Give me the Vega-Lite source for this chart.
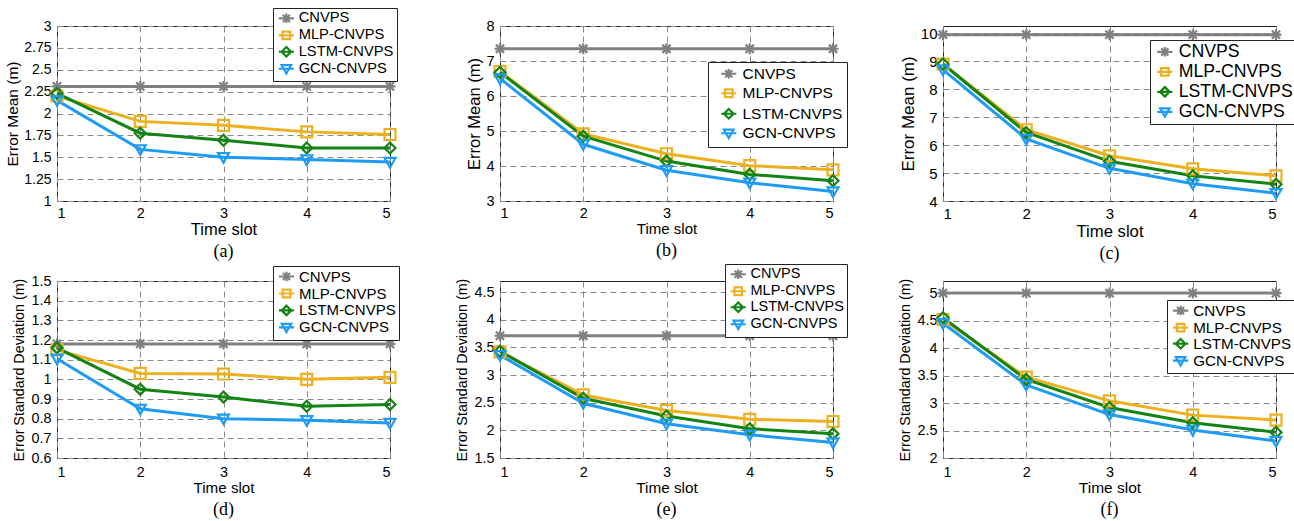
{
  "$schema": "https://vega.github.io/schema/vega-lite/v6.json",
  "background": "white",
  "padding": {"left": 5, "top": 7, "right": 5, "bottom": 5},
  "config": {
    "font": "Liberation Sans",
    "view": {"stroke": "#222", "strokeWidth": 1},
    "axis": {"domain": false, "ticks": false, "grid": true, "gridDash": [6, 4], "gridColor": "#8a8a8a", "gridWidth": 1, "labelColor": "#000", "titleColor": "#000", "titleFontWeight": "normal", "labelFont": "Liberation Sans", "titleFont": "Liberation Sans", "labelExpr": "format(datum.value, '~g')"},
    "legend": {"orient": "none", "title": null, "strokeColor": "#222", "fillColor": "#fff", "padding": 3, "labelFont": "Liberation Sans", "labelColor": "#000", "symbolStrokeWidth": 2.2, "symbolSize": 90, "symbolOffset": 3, "labelOffset": 5, "symbolFillColor": "transparent"},
    "point": {"filled": false, "strokeWidth": 2.2, "size": 120, "opacity": 1},
    "title": {"font": "Liberation Serif", "fontWeight": "normal", "fontSize": 18, "color": "#000", "orient": "bottom", "anchor": "middle"}
  },
  "data": {"values": [
    {"p":"a","m":"CNVPS","t":1,"v":2.31},{"p":"a","m":"CNVPS","t":2,"v":2.31},{"p":"a","m":"CNVPS","t":3,"v":2.31},{"p":"a","m":"CNVPS","t":4,"v":2.31},{"p":"a","m":"CNVPS","t":5,"v":2.31},
    {"p":"a","m":"MLP-CNVPS","t":1,"v":2.2},{"p":"a","m":"MLP-CNVPS","t":2,"v":1.91},{"p":"a","m":"MLP-CNVPS","t":3,"v":1.865},{"p":"a","m":"MLP-CNVPS","t":4,"v":1.79},{"p":"a","m":"MLP-CNVPS","t":5,"v":1.76},
    {"p":"a","m":"LSTM-CNVPS","t":1,"v":2.23},{"p":"a","m":"LSTM-CNVPS","t":2,"v":1.775},{"p":"a","m":"LSTM-CNVPS","t":3,"v":1.695},{"p":"a","m":"LSTM-CNVPS","t":4,"v":1.605},{"p":"a","m":"LSTM-CNVPS","t":5,"v":1.605},
    {"p":"a","m":"GCN-CNVPS","t":1,"v":2.15},{"p":"a","m":"GCN-CNVPS","t":2,"v":1.59},{"p":"a","m":"GCN-CNVPS","t":3,"v":1.5},{"p":"a","m":"GCN-CNVPS","t":4,"v":1.475},{"p":"a","m":"GCN-CNVPS","t":5,"v":1.445},
    {"p":"b","m":"CNVPS","t":1,"v":7.35},{"p":"b","m":"CNVPS","t":2,"v":7.35},{"p":"b","m":"CNVPS","t":3,"v":7.35},{"p":"b","m":"CNVPS","t":4,"v":7.35},{"p":"b","m":"CNVPS","t":5,"v":7.35},
    {"p":"b","m":"MLP-CNVPS","t":1,"v":6.7},{"p":"b","m":"MLP-CNVPS","t":2,"v":4.92},{"p":"b","m":"MLP-CNVPS","t":3,"v":4.35},{"p":"b","m":"MLP-CNVPS","t":4,"v":4.01},{"p":"b","m":"MLP-CNVPS","t":5,"v":3.89},
    {"p":"b","m":"LSTM-CNVPS","t":1,"v":6.68},{"p":"b","m":"LSTM-CNVPS","t":2,"v":4.85},{"p":"b","m":"LSTM-CNVPS","t":3,"v":4.14},{"p":"b","m":"LSTM-CNVPS","t":4,"v":3.76},{"p":"b","m":"LSTM-CNVPS","t":5,"v":3.58},
    {"p":"b","m":"GCN-CNVPS","t":1,"v":6.5},{"p":"b","m":"GCN-CNVPS","t":2,"v":4.62},{"p":"b","m":"GCN-CNVPS","t":3,"v":3.88},{"p":"b","m":"GCN-CNVPS","t":4,"v":3.52},{"p":"b","m":"GCN-CNVPS","t":5,"v":3.27},
    {"p":"c","m":"CNVPS","t":1,"v":9.95},{"p":"c","m":"CNVPS","t":2,"v":9.95},{"p":"c","m":"CNVPS","t":3,"v":9.95},{"p":"c","m":"CNVPS","t":4,"v":9.95},{"p":"c","m":"CNVPS","t":5,"v":9.95},
    {"p":"c","m":"MLP-CNVPS","t":1,"v":8.9},{"p":"c","m":"MLP-CNVPS","t":2,"v":6.55},{"p":"c","m":"MLP-CNVPS","t":3,"v":5.62},{"p":"c","m":"MLP-CNVPS","t":4,"v":5.15},{"p":"c","m":"MLP-CNVPS","t":5,"v":4.9},
    {"p":"c","m":"LSTM-CNVPS","t":1,"v":8.9},{"p":"c","m":"LSTM-CNVPS","t":2,"v":6.45},{"p":"c","m":"LSTM-CNVPS","t":3,"v":5.42},{"p":"c","m":"LSTM-CNVPS","t":4,"v":4.9},{"p":"c","m":"LSTM-CNVPS","t":5,"v":4.6},
    {"p":"c","m":"GCN-CNVPS","t":1,"v":8.7},{"p":"c","m":"GCN-CNVPS","t":2,"v":6.22},{"p":"c","m":"GCN-CNVPS","t":3,"v":5.17},{"p":"c","m":"GCN-CNVPS","t":4,"v":4.62},{"p":"c","m":"GCN-CNVPS","t":5,"v":4.28},
    {"p":"d","m":"CNVPS","t":1,"v":1.18},{"p":"d","m":"CNVPS","t":2,"v":1.18},{"p":"d","m":"CNVPS","t":3,"v":1.18},{"p":"d","m":"CNVPS","t":4,"v":1.18},{"p":"d","m":"CNVPS","t":5,"v":1.18},
    {"p":"d","m":"MLP-CNVPS","t":1,"v":1.15},{"p":"d","m":"MLP-CNVPS","t":2,"v":1.03},{"p":"d","m":"MLP-CNVPS","t":3,"v":1.027},{"p":"d","m":"MLP-CNVPS","t":4,"v":1.0},{"p":"d","m":"MLP-CNVPS","t":5,"v":1.01},
    {"p":"d","m":"LSTM-CNVPS","t":1,"v":1.16},{"p":"d","m":"LSTM-CNVPS","t":2,"v":0.95},{"p":"d","m":"LSTM-CNVPS","t":3,"v":0.91},{"p":"d","m":"LSTM-CNVPS","t":4,"v":0.863},{"p":"d","m":"LSTM-CNVPS","t":5,"v":0.872},
    {"p":"d","m":"GCN-CNVPS","t":1,"v":1.105},{"p":"d","m":"GCN-CNVPS","t":2,"v":0.85},{"p":"d","m":"GCN-CNVPS","t":3,"v":0.8},{"p":"d","m":"GCN-CNVPS","t":4,"v":0.792},{"p":"d","m":"GCN-CNVPS","t":5,"v":0.778},
    {"p":"e","m":"CNVPS","t":1,"v":3.71},{"p":"e","m":"CNVPS","t":2,"v":3.71},{"p":"e","m":"CNVPS","t":3,"v":3.71},{"p":"e","m":"CNVPS","t":4,"v":3.71},{"p":"e","m":"CNVPS","t":5,"v":3.71},
    {"p":"e","m":"MLP-CNVPS","t":1,"v":3.42},{"p":"e","m":"MLP-CNVPS","t":2,"v":2.64},{"p":"e","m":"MLP-CNVPS","t":3,"v":2.36},{"p":"e","m":"MLP-CNVPS","t":4,"v":2.2},{"p":"e","m":"MLP-CNVPS","t":5,"v":2.16},
    {"p":"e","m":"LSTM-CNVPS","t":1,"v":3.43},{"p":"e","m":"LSTM-CNVPS","t":2,"v":2.58},{"p":"e","m":"LSTM-CNVPS","t":3,"v":2.26},{"p":"e","m":"LSTM-CNVPS","t":4,"v":2.03},{"p":"e","m":"LSTM-CNVPS","t":5,"v":1.94},
    {"p":"e","m":"GCN-CNVPS","t":1,"v":3.36},{"p":"e","m":"GCN-CNVPS","t":2,"v":2.49},{"p":"e","m":"GCN-CNVPS","t":3,"v":2.12},{"p":"e","m":"GCN-CNVPS","t":4,"v":1.92},{"p":"e","m":"GCN-CNVPS","t":5,"v":1.78},
    {"p":"f","m":"CNVPS","t":1,"v":5.0},{"p":"f","m":"CNVPS","t":2,"v":5.0},{"p":"f","m":"CNVPS","t":3,"v":5.0},{"p":"f","m":"CNVPS","t":4,"v":5.0},{"p":"f","m":"CNVPS","t":5,"v":5.0},
    {"p":"f","m":"MLP-CNVPS","t":1,"v":4.52},{"p":"f","m":"MLP-CNVPS","t":2,"v":3.47},{"p":"f","m":"MLP-CNVPS","t":3,"v":3.04},{"p":"f","m":"MLP-CNVPS","t":4,"v":2.78},{"p":"f","m":"MLP-CNVPS","t":5,"v":2.69},
    {"p":"f","m":"LSTM-CNVPS","t":1,"v":4.55},{"p":"f","m":"LSTM-CNVPS","t":2,"v":3.43},{"p":"f","m":"LSTM-CNVPS","t":3,"v":2.92},{"p":"f","m":"LSTM-CNVPS","t":4,"v":2.64},{"p":"f","m":"LSTM-CNVPS","t":5,"v":2.47},
    {"p":"f","m":"GCN-CNVPS","t":1,"v":4.45},{"p":"f","m":"GCN-CNVPS","t":2,"v":3.33},{"p":"f","m":"GCN-CNVPS","t":3,"v":2.79},{"p":"f","m":"GCN-CNVPS","t":4,"v":2.51},{"p":"f","m":"GCN-CNVPS","t":5,"v":2.31}
  ]},
  "columns": 3,
  "bounds": "flush",
  "spacing": {"row": 80, "column": 110},
  "resolve": {"scale": {"color": "independent", "shape": "independent"}, "legend": {"color": "independent", "shape": "independent"}},
  "concat": [
    {
      "width": 333, "height": 175,
      "transform": [{"filter": "datum.p === 'a'"}],
      "title": {"text": "(a)", "offset": 5},
      "encoding": {
        "x": {"field": "t", "type": "quantitative", "scale": {"domain": [1, 5], "nice": false}, "axis": {"values": [1, 2, 3, 4, 5], "title": "Time slot", "labelFontSize": 14.5, "titleFontSize": 16.5, "labelPadding": 5, "titlePadding": 2}},
        "y": {"field": "v", "type": "quantitative", "scale": {"domain": [1, 3], "nice": false, "zero": false}, "axis": {"values": [1, 1.25, 1.5, 1.75, 2, 2.25, 2.5, 2.75, 3], "title": "Error Mean (m)", "labelFontSize": 14, "titleFontSize": 15.5, "labelPadding": 6, "titlePadding": 3}}
      },
      "layer": [
        {"mark": {"type": "line", "strokeWidth": 3}, "encoding": {"color": {"field": "m", "type": "nominal", "sort": null, "scale": {"domain": ["CNVPS", "MLP-CNVPS", "LSTM-CNVPS", "GCN-CNVPS"], "range": ["#808080", "#EDB120", "#138413", "#1E9BF5"]}, "legend": {"legendX": 216, "legendY": -18, "labelFontSize": 14.7, "rowPadding": -1.6}}}},
        {"transform": [{"filter": "false"}], "mark": {"type": "point"}, "encoding": {"color": {"field": "m", "type": "nominal", "sort": null, "scale": {"domain": ["CNVPS", "MLP-CNVPS", "LSTM-CNVPS", "GCN-CNVPS"], "range": ["#808080", "#EDB120", "#138413", "#1E9BF5"]}}, "shape": {"field": "m", "type": "nominal", "sort": null, "scale": {"domain": ["CNVPS", "MLP-CNVPS", "LSTM-CNVPS", "GCN-CNVPS"], "range": ["M-1.6,0L1.6,0M0,-1L0,1M-0.75,-0.75L0.75,0.75M-0.75,0.75L0.75,-0.75", "M-1.6,0L1.6,0M-0.8,-0.8L0.8,-0.8L0.8,0.8L-0.8,0.8Z", "M-1.6,0L1.6,0M0,-1L1,0L0,1L-1,0Z", "M-1.6,0L1.6,0M-1,-0.75L1,-0.75L0,1Z"]}, "legend": null}}},
        {"transform": [{"filter": "datum.m === 'CNVPS'"}], "mark": {"type": "point", "shape": "M-1,0L1,0M0,-1L0,1M-0.75,-0.75L0.75,0.75M-0.75,0.75L0.75,-0.75", "color": "#808080"}},
        {"transform": [{"filter": "datum.m === 'MLP-CNVPS'"}], "mark": {"type": "point", "shape": "square", "color": "#EDB120"}},
        {"transform": [{"filter": "datum.m === 'LSTM-CNVPS'"}], "mark": {"type": "point", "shape": "diamond", "color": "#138413"}},
        {"transform": [{"filter": "datum.m === 'GCN-CNVPS'"}], "mark": {"type": "point", "shape": "M-1,-0.75L1,-0.75L0,1Z", "color": "#1E9BF5"}}
      ]
    },
    {
      "width": 333, "height": 175,
      "transform": [{"filter": "datum.p === 'b'"}],
      "title": {"text": "(b)", "offset": 5},
      "encoding": {
        "x": {"field": "t", "type": "quantitative", "scale": {"domain": [1, 5], "nice": false}, "axis": {"values": [1, 2, 3, 4, 5], "title": "Time slot", "labelFontSize": 14.5, "titleFontSize": 15, "labelPadding": 5, "titlePadding": 2}},
        "y": {"field": "v", "type": "quantitative", "scale": {"domain": [3, 8], "nice": false, "zero": false}, "axis": {"values": [3, 4, 5, 6, 7, 8], "title": "Error Mean (m)", "labelFontSize": 14.5, "titleFontSize": 16.5, "labelPadding": 6, "titlePadding": 3}}
      },
      "layer": [
        {"mark": {"type": "line", "strokeWidth": 3}, "encoding": {"color": {"field": "m", "type": "nominal", "sort": null, "scale": {"domain": ["CNVPS", "MLP-CNVPS", "LSTM-CNVPS", "GCN-CNVPS"], "range": ["#808080", "#EDB120", "#138413", "#1E9BF5"]}, "legend": {"legendX": 208, "legendY": 36, "labelFontSize": 15.5, "rowPadding": 1.5, "padding": 4, "symbolOffset": 9, "labelOffset": 6}}}},
        {"transform": [{"filter": "false"}], "mark": {"type": "point"}, "encoding": {"color": {"field": "m", "type": "nominal", "sort": null, "scale": {"domain": ["CNVPS", "MLP-CNVPS", "LSTM-CNVPS", "GCN-CNVPS"], "range": ["#808080", "#EDB120", "#138413", "#1E9BF5"]}}, "shape": {"field": "m", "type": "nominal", "sort": null, "scale": {"domain": ["CNVPS", "MLP-CNVPS", "LSTM-CNVPS", "GCN-CNVPS"], "range": ["M-1.6,0L1.6,0M0,-1L0,1M-0.75,-0.75L0.75,0.75M-0.75,0.75L0.75,-0.75", "M-1.6,0L1.6,0M-0.8,-0.8L0.8,-0.8L0.8,0.8L-0.8,0.8Z", "M-1.6,0L1.6,0M0,-1L1,0L0,1L-1,0Z", "M-1.6,0L1.6,0M-1,-0.75L1,-0.75L0,1Z"]}, "legend": null}}},
        {"transform": [{"filter": "datum.m === 'CNVPS'"}], "mark": {"type": "point", "shape": "M-1,0L1,0M0,-1L0,1M-0.75,-0.75L0.75,0.75M-0.75,0.75L0.75,-0.75", "color": "#808080"}},
        {"transform": [{"filter": "datum.m === 'MLP-CNVPS'"}], "mark": {"type": "point", "shape": "square", "color": "#EDB120"}},
        {"transform": [{"filter": "datum.m === 'LSTM-CNVPS'"}], "mark": {"type": "point", "shape": "diamond", "color": "#138413"}},
        {"transform": [{"filter": "datum.m === 'GCN-CNVPS'"}], "mark": {"type": "point", "shape": "M-1,-0.75L1,-0.75L0,1Z", "color": "#1E9BF5"}}
      ]
    },
    {
      "width": 333, "height": 175,
      "transform": [{"filter": "datum.p === 'c'"}],
      "title": {"text": "(c)", "offset": 5},
      "encoding": {
        "x": {"field": "t", "type": "quantitative", "scale": {"domain": [1, 5], "nice": false}, "axis": {"values": [1, 2, 3, 4, 5], "title": "Time slot", "labelFontSize": 15, "titleFontSize": 16.7, "labelPadding": 5, "titlePadding": 2}},
        "y": {"field": "v", "type": "quantitative", "scale": {"domain": [4, 10.26], "nice": false, "zero": false}, "axis": {"values": [4, 5, 6, 7, 8, 9, 10], "title": "Error Mean (m)", "labelFontSize": 15, "titleFontSize": 17, "labelPadding": 6, "titlePadding": 3}}
      },
      "layer": [
        {"mark": {"type": "line", "strokeWidth": 3}, "encoding": {"color": {"field": "m", "type": "nominal", "sort": null, "scale": {"domain": ["CNVPS", "MLP-CNVPS", "LSTM-CNVPS", "GCN-CNVPS"], "range": ["#808080", "#EDB120", "#138413", "#1E9BF5"]}, "legend": {"legendX": 207, "legendY": 14, "labelFontSize": 17.7, "rowPadding": 1}}}},
        {"transform": [{"filter": "false"}], "mark": {"type": "point"}, "encoding": {"color": {"field": "m", "type": "nominal", "sort": null, "scale": {"domain": ["CNVPS", "MLP-CNVPS", "LSTM-CNVPS", "GCN-CNVPS"], "range": ["#808080", "#EDB120", "#138413", "#1E9BF5"]}}, "shape": {"field": "m", "type": "nominal", "sort": null, "scale": {"domain": ["CNVPS", "MLP-CNVPS", "LSTM-CNVPS", "GCN-CNVPS"], "range": ["M-1.6,0L1.6,0M0,-1L0,1M-0.75,-0.75L0.75,0.75M-0.75,0.75L0.75,-0.75", "M-1.6,0L1.6,0M-0.8,-0.8L0.8,-0.8L0.8,0.8L-0.8,0.8Z", "M-1.6,0L1.6,0M0,-1L1,0L0,1L-1,0Z", "M-1.6,0L1.6,0M-1,-0.75L1,-0.75L0,1Z"]}, "legend": null}}},
        {"transform": [{"filter": "datum.m === 'CNVPS'"}], "mark": {"type": "point", "shape": "M-1,0L1,0M0,-1L0,1M-0.75,-0.75L0.75,0.75M-0.75,0.75L0.75,-0.75", "color": "#808080"}},
        {"transform": [{"filter": "datum.m === 'MLP-CNVPS'"}], "mark": {"type": "point", "shape": "square", "color": "#EDB120"}},
        {"transform": [{"filter": "datum.m === 'LSTM-CNVPS'"}], "mark": {"type": "point", "shape": "diamond", "color": "#138413"}},
        {"transform": [{"filter": "datum.m === 'GCN-CNVPS'"}], "mark": {"type": "point", "shape": "M-1,-0.75L1,-0.75L0,1Z", "color": "#1E9BF5"}}
      ]
    },
    {
      "width": 333, "height": 177,
      "transform": [{"filter": "datum.p === 'd'"}],
      "title": {"text": "(d)", "offset": 5},
      "encoding": {
        "x": {"field": "t", "type": "quantitative", "scale": {"domain": [1, 5], "nice": false}, "axis": {"values": [1, 2, 3, 4, 5], "title": "Time slot", "labelFontSize": 14.4, "titleFontSize": 15.2, "labelPadding": 7, "titlePadding": 2}},
        "y": {"field": "v", "type": "quantitative", "scale": {"domain": [0.6, 1.5], "nice": false, "zero": false}, "axis": {"values": [0.6, 0.7, 0.8, 0.9, 1, 1.1, 1.2, 1.3, 1.4, 1.5], "title": "Error Standard Deviation (m)", "labelFontSize": 14.4, "titleFontSize": 14.3, "labelPadding": 6, "titlePadding": 4}}
      },
      "layer": [
        {"mark": {"type": "line", "strokeWidth": 3}, "encoding": {"color": {"field": "m", "type": "nominal", "sort": null, "scale": {"domain": ["CNVPS", "MLP-CNVPS", "LSTM-CNVPS", "GCN-CNVPS"], "range": ["#808080", "#EDB120", "#138413", "#1E9BF5"]}, "legend": {"legendX": 216, "legendY": -15, "labelFontSize": 15, "rowPadding": -1.1}}}},
        {"transform": [{"filter": "false"}], "mark": {"type": "point"}, "encoding": {"color": {"field": "m", "type": "nominal", "sort": null, "scale": {"domain": ["CNVPS", "MLP-CNVPS", "LSTM-CNVPS", "GCN-CNVPS"], "range": ["#808080", "#EDB120", "#138413", "#1E9BF5"]}}, "shape": {"field": "m", "type": "nominal", "sort": null, "scale": {"domain": ["CNVPS", "MLP-CNVPS", "LSTM-CNVPS", "GCN-CNVPS"], "range": ["M-1.6,0L1.6,0M0,-1L0,1M-0.75,-0.75L0.75,0.75M-0.75,0.75L0.75,-0.75", "M-1.6,0L1.6,0M-0.8,-0.8L0.8,-0.8L0.8,0.8L-0.8,0.8Z", "M-1.6,0L1.6,0M0,-1L1,0L0,1L-1,0Z", "M-1.6,0L1.6,0M-1,-0.75L1,-0.75L0,1Z"]}, "legend": null}}},
        {"transform": [{"filter": "datum.m === 'CNVPS'"}], "mark": {"type": "point", "shape": "M-1,0L1,0M0,-1L0,1M-0.75,-0.75L0.75,0.75M-0.75,0.75L0.75,-0.75", "color": "#808080"}},
        {"transform": [{"filter": "datum.m === 'MLP-CNVPS'"}], "mark": {"type": "point", "shape": "square", "color": "#EDB120"}},
        {"transform": [{"filter": "datum.m === 'LSTM-CNVPS'"}], "mark": {"type": "point", "shape": "diamond", "color": "#138413"}},
        {"transform": [{"filter": "datum.m === 'GCN-CNVPS'"}], "mark": {"type": "point", "shape": "M-1,-0.75L1,-0.75L0,1Z", "color": "#1E9BF5"}}
      ]
    },
    {
      "width": 333, "height": 177,
      "transform": [{"filter": "datum.p === 'e'"}],
      "title": {"text": "(e)", "offset": 5},
      "encoding": {
        "x": {"field": "t", "type": "quantitative", "scale": {"domain": [1, 5], "nice": false}, "axis": {"values": [1, 2, 3, 4, 5], "title": "Time slot", "labelFontSize": 14.4, "titleFontSize": 15.3, "labelPadding": 7, "titlePadding": 2}},
        "y": {"field": "v", "type": "quantitative", "scale": {"domain": [1.5, 4.7], "nice": false, "zero": false}, "axis": {"values": [1.5, 2, 2.5, 3, 3.5, 4, 4.5], "title": "Error Standard Deviation (m)", "labelFontSize": 14.4, "titleFontSize": 14.3, "labelPadding": 6, "titlePadding": 4}}
      },
      "layer": [
        {"mark": {"type": "line", "strokeWidth": 3}, "encoding": {"color": {"field": "m", "type": "nominal", "sort": null, "scale": {"domain": ["CNVPS", "MLP-CNVPS", "LSTM-CNVPS", "GCN-CNVPS"], "range": ["#808080", "#EDB120", "#138413", "#1E9BF5"]}, "legend": {"legendX": 225, "legendY": -17, "labelFontSize": 14.5, "rowPadding": -3.4}}}},
        {"transform": [{"filter": "false"}], "mark": {"type": "point"}, "encoding": {"color": {"field": "m", "type": "nominal", "sort": null, "scale": {"domain": ["CNVPS", "MLP-CNVPS", "LSTM-CNVPS", "GCN-CNVPS"], "range": ["#808080", "#EDB120", "#138413", "#1E9BF5"]}}, "shape": {"field": "m", "type": "nominal", "sort": null, "scale": {"domain": ["CNVPS", "MLP-CNVPS", "LSTM-CNVPS", "GCN-CNVPS"], "range": ["M-1.6,0L1.6,0M0,-1L0,1M-0.75,-0.75L0.75,0.75M-0.75,0.75L0.75,-0.75", "M-1.6,0L1.6,0M-0.8,-0.8L0.8,-0.8L0.8,0.8L-0.8,0.8Z", "M-1.6,0L1.6,0M0,-1L1,0L0,1L-1,0Z", "M-1.6,0L1.6,0M-1,-0.75L1,-0.75L0,1Z"]}, "legend": null}}},
        {"transform": [{"filter": "datum.m === 'CNVPS'"}], "mark": {"type": "point", "shape": "M-1,0L1,0M0,-1L0,1M-0.75,-0.75L0.75,0.75M-0.75,0.75L0.75,-0.75", "color": "#808080"}},
        {"transform": [{"filter": "datum.m === 'MLP-CNVPS'"}], "mark": {"type": "point", "shape": "square", "color": "#EDB120"}},
        {"transform": [{"filter": "datum.m === 'LSTM-CNVPS'"}], "mark": {"type": "point", "shape": "diamond", "color": "#138413"}},
        {"transform": [{"filter": "datum.m === 'GCN-CNVPS'"}], "mark": {"type": "point", "shape": "M-1,-0.75L1,-0.75L0,1Z", "color": "#1E9BF5"}}
      ]
    },
    {
      "width": 333, "height": 177,
      "transform": [{"filter": "datum.p === 'f'"}],
      "title": {"text": "(f)", "offset": 5},
      "encoding": {
        "x": {"field": "t", "type": "quantitative", "scale": {"domain": [1, 5], "nice": false}, "axis": {"values": [1, 2, 3, 4, 5], "title": "Time slot", "labelFontSize": 14.4, "titleFontSize": 15.5, "labelPadding": 7, "titlePadding": 2}},
        "y": {"field": "v", "type": "quantitative", "scale": {"domain": [2, 5.22], "nice": false, "zero": false}, "axis": {"values": [2, 2.5, 3, 3.5, 4, 4.5, 5], "title": "Error Standard Deviation (m)", "labelFontSize": 14.4, "titleFontSize": 14.3, "labelPadding": 6, "titlePadding": 4}}
      },
      "layer": [
        {"mark": {"type": "line", "strokeWidth": 3}, "encoding": {"color": {"field": "m", "type": "nominal", "sort": null, "scale": {"domain": ["CNVPS", "MLP-CNVPS", "LSTM-CNVPS", "GCN-CNVPS"], "range": ["#808080", "#EDB120", "#138413", "#1E9BF5"]}, "legend": {"legendX": 224, "legendY": 19, "labelFontSize": 15.2, "rowPadding": -1.9}}}},
        {"transform": [{"filter": "false"}], "mark": {"type": "point"}, "encoding": {"color": {"field": "m", "type": "nominal", "sort": null, "scale": {"domain": ["CNVPS", "MLP-CNVPS", "LSTM-CNVPS", "GCN-CNVPS"], "range": ["#808080", "#EDB120", "#138413", "#1E9BF5"]}}, "shape": {"field": "m", "type": "nominal", "sort": null, "scale": {"domain": ["CNVPS", "MLP-CNVPS", "LSTM-CNVPS", "GCN-CNVPS"], "range": ["M-1.6,0L1.6,0M0,-1L0,1M-0.75,-0.75L0.75,0.75M-0.75,0.75L0.75,-0.75", "M-1.6,0L1.6,0M-0.8,-0.8L0.8,-0.8L0.8,0.8L-0.8,0.8Z", "M-1.6,0L1.6,0M0,-1L1,0L0,1L-1,0Z", "M-1.6,0L1.6,0M-1,-0.75L1,-0.75L0,1Z"]}, "legend": null}}},
        {"transform": [{"filter": "datum.m === 'CNVPS'"}], "mark": {"type": "point", "shape": "M-1,0L1,0M0,-1L0,1M-0.75,-0.75L0.75,0.75M-0.75,0.75L0.75,-0.75", "color": "#808080"}},
        {"transform": [{"filter": "datum.m === 'MLP-CNVPS'"}], "mark": {"type": "point", "shape": "square", "color": "#EDB120"}},
        {"transform": [{"filter": "datum.m === 'LSTM-CNVPS'"}], "mark": {"type": "point", "shape": "diamond", "color": "#138413"}},
        {"transform": [{"filter": "datum.m === 'GCN-CNVPS'"}], "mark": {"type": "point", "shape": "M-1,-0.75L1,-0.75L0,1Z", "color": "#1E9BF5"}}
      ]
    }
  ]
}
